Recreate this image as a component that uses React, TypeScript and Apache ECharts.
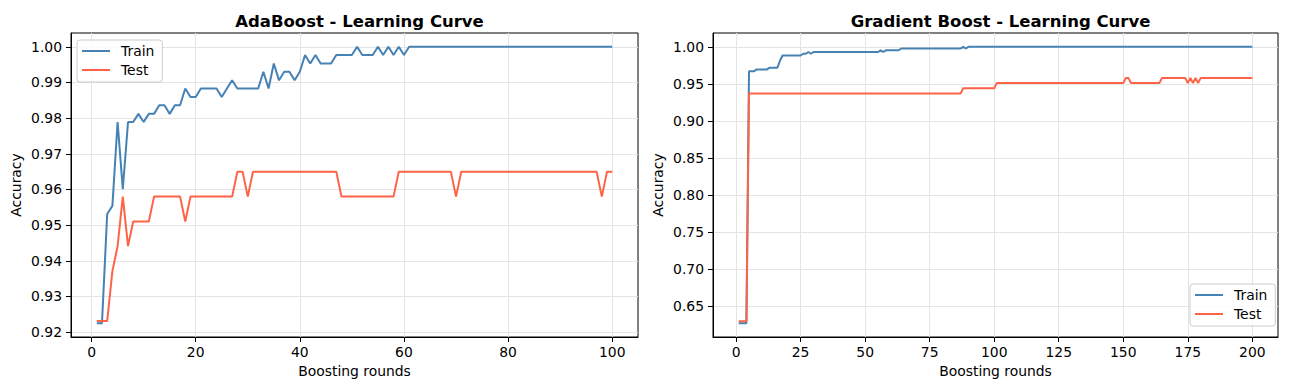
import React, { useEffect, useRef } from "react";
import * as echarts from "echarts";

// Runs of equal accuracy: [firstRound, lastRound, accuracy]
const adaTrainRuns: [number, number, number][] = [
  [1, 2, 0.9225], [3, 3, 0.9531], [4, 4, 0.9554], [5, 5, 0.9789], [6, 6, 0.9601],
  [7, 8, 0.9789], [9, 9, 0.9812], [10, 10, 0.9789], [11, 12, 0.9812], [13, 14, 0.9836],
  [15, 15, 0.9812], [16, 17, 0.9836], [18, 18, 0.9883], [19, 20, 0.9859], [21, 24, 0.9883],
  [25, 25, 0.9859], [26, 26, 0.9883], [27, 27, 0.9906], [28, 32, 0.9883], [33, 33, 0.993],
  [34, 34, 0.9883], [35, 35, 0.9953], [36, 36, 0.9906], [37, 38, 0.993], [39, 39, 0.9906],
  [40, 40, 0.993], [41, 41, 0.9977], [42, 42, 0.9953], [43, 43, 0.9977], [44, 46, 0.9953],
  [47, 50, 0.9977], [51, 51, 1.0], [52, 54, 0.9977], [55, 55, 1.0], [56, 56, 0.9977],
  [57, 57, 1.0], [58, 58, 0.9977], [59, 59, 1.0], [60, 60, 0.9977], [61, 100, 1.0],
];
const adaTestRuns: [number, number, number][] = [
  [1, 3, 0.9231], [4, 4, 0.9371], [5, 5, 0.9441], [6, 6, 0.958], [7, 7, 0.9441],
  [8, 11, 0.951], [12, 17, 0.958], [18, 18, 0.951], [19, 27, 0.958], [28, 29, 0.965],
  [30, 30, 0.958], [31, 47, 0.965], [48, 58, 0.958], [59, 69, 0.965], [70, 70, 0.958],
  [71, 97, 0.965], [98, 98, 0.958], [99, 100, 0.965],
];
const gbTrainRuns: [number, number, number][] = [
  [1, 4, 0.6268], [5, 7, 0.9671], [8, 12, 0.9695], [13, 16, 0.9718], [17, 17, 0.9812],
  [18, 25, 0.9883], [26, 27, 0.9906], [28, 28, 0.993], [29, 29, 0.9906], [30, 55, 0.993],
  [56, 56, 0.9953], [57, 57, 0.993], [58, 63, 0.9953], [64, 87, 0.9977], [88, 88, 1.0],
  [89, 89, 0.9977], [90, 200, 1.0],
];
const gbTestRuns: [number, number, number][] = [
  [1, 4, 0.6294], [5, 87, 0.9371], [88, 100, 0.9441], [101, 150, 0.951], [151, 152, 0.958],
  [153, 164, 0.951], [165, 174, 0.958], [175, 175, 0.951], [176, 176, 0.958], [177, 177, 0.951],
  [178, 178, 0.958], [179, 179, 0.951], [180, 200, 0.958],
];

const adaXTicks = [0, 20, 40, 60, 80, 100];
const adaYTicks = [0.92, 0.93, 0.94, 0.95, 0.96, 0.97, 0.98, 0.99, 1.0];
const gbXTicks = [0, 25, 50, 75, 100, 125, 150, 175, 200];
const gbYTicks = [0.65, 0.7, 0.75, 0.8, 0.85, 0.9, 0.95, 1.0];

const titles = ["AdaBoost - Learning Curve", "Gradient Boost - Learning Curve"];
const seriesNames = ["Train", "Test"];
const colors = ["#4682B4", "#FF6347"];

function expand(runs: [number, number, number][]) {
  const out: [number, number][] = [];
  for (const [a, b, v] of runs) for (let x = a; x <= b; x++) out.push([x, v]);
  return out;
}

const FONT = "DejaVu Sans";
const FS = 13.9;

function xAxis(gridIndex: number, min: number, max: number, ticks: number[]) {
  return {
    type: "value",
    gridIndex,
    min,
    max,
    name: "Boosting rounds",
    nameLocation: "middle",
    nameGap: 27,
    nameTextStyle: { fontFamily: FONT, fontSize: FS, color: "#000" },
    axisLine: { show: true, onZero: false, lineStyle: { color: "#000", width: 1 } },
    axisTick: { show: true, length: 5, customValues: ticks, lineStyle: { color: "#000" } },
    axisLabel: { customValues: ticks, fontFamily: FONT, fontSize: FS, color: "#000", margin: 8, formatter: (v: number) => String(v) },
    splitLine: { show: true, lineStyle: { color: "#e4e4e4", width: 1 } },
  };
}

function yAxis(gridIndex: number, min: number, max: number, ticks: number[]) {
  return {
    type: "value",
    gridIndex,
    min,
    max,
    name: "Accuracy",
    nameLocation: "middle",
    nameGap: 48,
    nameTextStyle: { fontFamily: FONT, fontSize: FS, color: "#000" },
    axisLine: { show: true, onZero: false, lineStyle: { color: "#000", width: 1 } },
    axisTick: { show: true, length: 5, customValues: ticks, lineStyle: { color: "#000" } },
    axisLabel: { customValues: ticks, fontFamily: FONT, fontSize: FS, color: "#000", margin: 9, formatter: (v: number) => v.toFixed(2) },
    splitLine: { show: true, lineStyle: { color: "#e4e4e4", width: 1 } },
  };
}

function legend(left: number, top: number) {
  return {
    orient: "vertical",
    left,
    top,
    data: seriesNames,
    icon: "rect",
    itemWidth: 28,
    itemHeight: 2,
    itemGap: 5,
    padding: [4, 8, 5, 5],
    borderColor: "#cccccc",
    borderWidth: 1,
    borderRadius: 3,
    backgroundColor: "rgba(255,255,255,0.8)",
    textStyle: { fontFamily: FONT, fontSize: FS, color: "#000", padding: [0, 0, 0, 6] },
  };
}

function lineSeries(name: string, color: string, idx: number, data: [number, number][]) {
  return {
    type: "line",
    name,
    xAxisIndex: idx,
    yAxisIndex: idx,
    data,
    symbol: "none",
    showSymbol: false,
    color,
    lineStyle: { color, width: 2 },
    z: name === "Test" ? 3 : 2,
  };
}

export default function App() {
  const ref = useRef<HTMLDivElement>(null);
  useEffect(() => {
    if (!ref.current) return;
    const chart = echarts.init(ref.current, null, { renderer: "svg" });
    const titleStyle = { fontFamily: FONT, fontSize: 16.5, fontWeight: "bold", color: "#000" };
    chart.setOption({
      animation: false,
      backgroundColor: "#fff",
      title: [
        { text: titles[0], left: 354.5, top: 8, textAlign: "center", textStyle: titleStyle },
        { text: titles[1], left: 995.5, top: 8, textAlign: "center", textStyle: titleStyle },
      ],
      grid: [
        { left: 71, top: 33, width: 567, height: 304, show: true, borderColor: "#000", borderWidth: 1, backgroundColor: "transparent" },
        { left: 713, top: 33, width: 565, height: 304, show: true, borderColor: "#000", borderWidth: 1, backgroundColor: "transparent" },
      ],
      xAxis: [xAxis(0, -3.95, 104.95, adaXTicks), xAxis(1, -8.95, 209.95, gbXTicks)],
      yAxis: [yAxis(0, 0.918625, 1.003875, adaYTicks), yAxis(1, 0.6081, 1.01866, gbYTicks)],
      legend: [legend(77, 40), legend(1190, 284)],
      series: [
        lineSeries(seriesNames[0], colors[0], 0, expand(adaTrainRuns)),
        lineSeries(seriesNames[1], colors[1], 0, expand(adaTestRuns)),
        lineSeries(seriesNames[0], colors[0], 1, expand(gbTrainRuns)),
        lineSeries(seriesNames[1], colors[1], 1, expand(gbTestRuns)),
      ],
    });
    return () => chart.dispose();
  }, []);
  return <div ref={ref} style={{ position: "fixed", left: 0, top: 0, width: 1289, height: 390 }} />;
}
